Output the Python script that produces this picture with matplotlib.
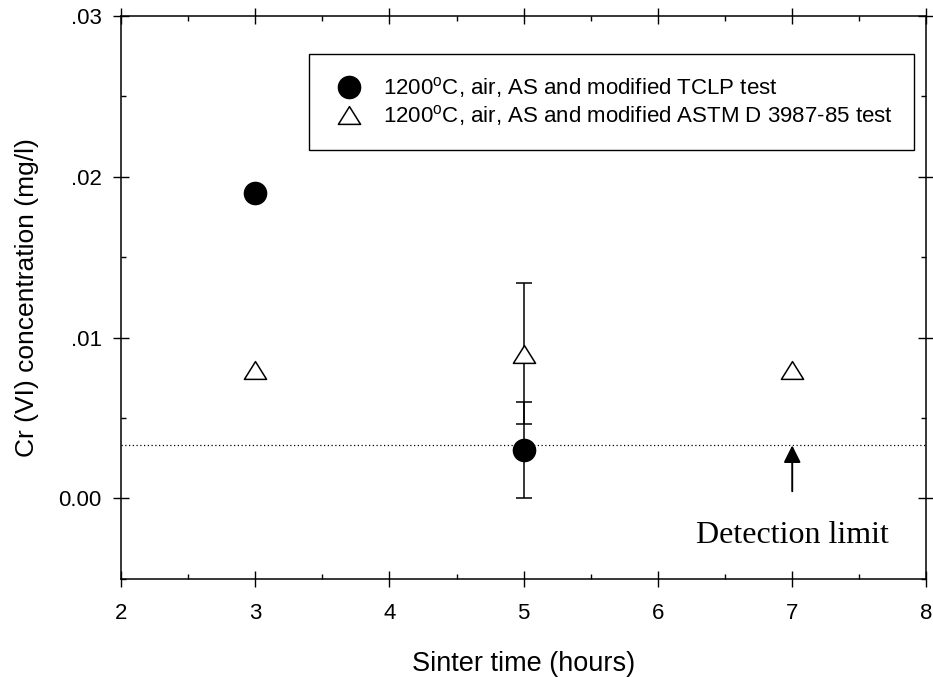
import matplotlib
matplotlib.use("Agg")
import matplotlib.pyplot as plt
from matplotlib.path import Path

plt.rcParams['font.family'] = ['Liberation Sans', 'DejaVu Sans']
plt.rcParams['mathtext.fontset'] = 'custom'
plt.rcParams['mathtext.rm'] = 'Liberation Sans'

# data
tclp_time = [3, 5]
tclp_conc = [0.019, 0.003]
tclp_err = [0.0, 0.003]

astm_time = [3, 5, 7]
astm_conc = [0.008, 0.009, 0.008]
astm_err = [0.0, 0.0044, 0.0]

detection_limit = 0.0033

x_ticks = [2, 3, 4, 5, 6, 7, 8]
y_ticks = [0.0, 0.01, 0.02, 0.03]
y_tick_labels = ['0.00', '.01', '.02', '.03']

label_tclp = r'1200$^{\mathrm{o}}$C, air, AS and modified TCLP test'
label_astm = r'1200$^{\mathrm{o}}$C, air, AS and modified ASTM D 3987-85 test'

# wider-than-tall open triangle
tri = Path([(-1, -0.8), (1, -0.8), (0, 0.8), (-1, -0.8)],
           [Path.MOVETO, Path.LINETO, Path.LINETO, Path.CLOSEPOLY])

fig = plt.figure(figsize=(9.33, 6.77), dpi=100)
ax = fig.add_axes([0.1297, 0.1448, 0.8633, 0.8321])

ax.axhline(detection_limit, color='black', lw=0.9, dashes=(1, 2))


def draw_errors(xs, ys, errs):
    # only points that actually carry an error bar
    pts = [(x, y, e) for x, y, e in zip(xs, ys, errs) if e > 0]
    ax.errorbar([p[0] for p in pts], [p[1] for p in pts],
                yerr=[p[2] for p in pts], fmt='none', ecolor='black',
                elinewidth=1.1, capsize=6, capthick=1.1, zorder=2)


draw_errors(tclp_time, tclp_conc, tclp_err)
draw_errors(astm_time, astm_conc, astm_err)

ax.plot(tclp_time, tclp_conc, linestyle='none', marker='o', ms=16,
        color='black', label=label_tclp, zorder=3)
ax.plot(astm_time, astm_conc, linestyle='none', marker=tri, ms=16,
        mfc='white', mec='black', mew=1.1, label=label_astm, zorder=4)

ax.annotate('', xy=(7, detection_limit), xytext=(7, 0.00045),
            arrowprops=dict(arrowstyle='-|>', color='black', lw=1.4,
                            mutation_scale=26, shrinkA=0, shrinkB=0))
ax.text(7, -0.0023, 'Detection limit', family='Liberation Serif',
        fontsize=23, ha='center', va='center')

ax.set_xlim(2, 8)
ax.set_ylim(-0.0045, 0.03)
ax.set_xticks(x_ticks)
ax.set_xticks([2.5, 3.5, 4.5, 5.5, 6.5, 7.5], minor=True)
ax.set_yticks(y_ticks)
ax.set_yticklabels(y_tick_labels)
ax.set_yticks([-0.005, 0.005, 0.015, 0.025], minor=True)

for s in ax.spines.values():
    s.set_linewidth(1.1)
ax.tick_params(which='major', direction='inout', length=12, width=1.0,
               top=True, right=True, labelsize=16)
ax.tick_params(which='minor', direction='in', length=3.6, width=1.0,
               top=True, right=True)
ax.tick_params(axis='x', which='major', pad=11)
ax.tick_params(axis='y', which='major', pad=8)

ax.set_xlabel('Sinter time (hours)', fontsize=19.5, labelpad=20)
ax.set_ylabel('Cr (VI) concentration (mg/l)', fontsize=19, labelpad=14)

leg = ax.legend(loc='upper right', bbox_to_anchor=(0.9845, 0.932),
                borderaxespad=0, fontsize=16, handlelength=1.7,
                handletextpad=0.7, labelspacing=0.15, borderpad=0.95,
                fancybox=False, framealpha=1, edgecolor='black')
leg.get_frame().set_linewidth(1.0)

fig.savefig('out.png', dpi=100)
